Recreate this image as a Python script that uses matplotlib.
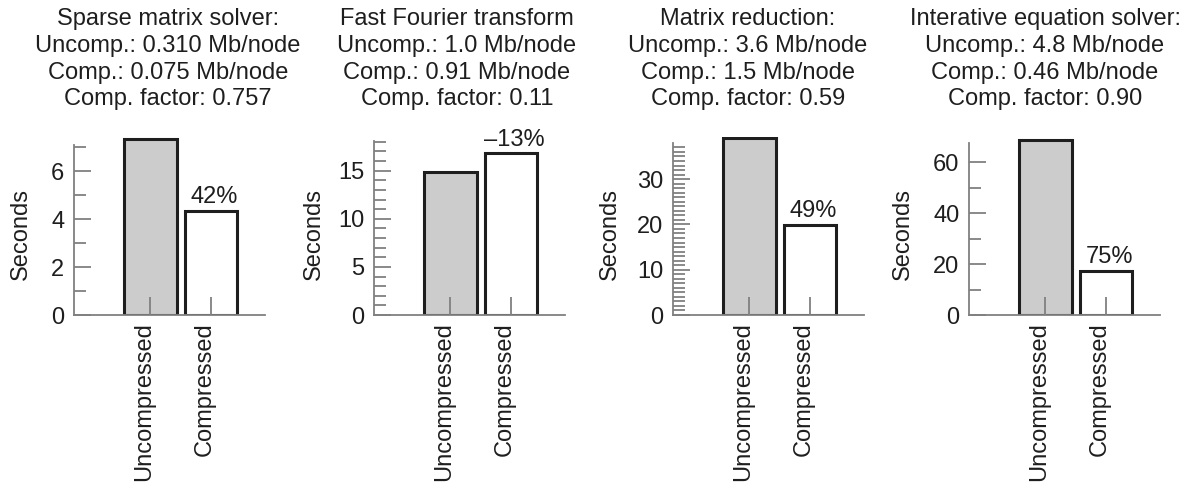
"""Uncompressed vs compressed run times for four solver kernels."""

import matplotlib

matplotlib.use("Agg")

import matplotlib.pyplot as plt  # noqa: E402
import numpy as np  # noqa: E402
from matplotlib.ticker import FixedLocator  # noqa: E402
from matplotlib.transforms import ScaledTranslation  # noqa: E402

plt.rcParams["font.family"] = ["Liberation Sans", "DejaVu Sans"]

# ---- data ------------------------------------------------------------------
CATEGORIES = ["Uncompressed", "Compressed"]
TITLES = [
    "Sparse matrix solver:\nUncomp.: 0.310 Mb/node\nComp.: 0.075 Mb/node\nComp. factor: 0.757",
    "Fast Fourier transform\nUncomp.: 1.0 Mb/node\nComp.: 0.91 Mb/node\nComp. factor: 0.11",
    "Matrix reduction:\nUncomp.: 3.6 Mb/node\nComp.: 1.5 Mb/node\nComp. factor: 0.59",
    "Interative equation solver:\nUncomp.: 4.8 Mb/node\nComp.: 0.46 Mb/node\nComp. factor: 0.90",
]
UNCOMPRESSED = [7.33, 14.9, 39.0, 68.9]
COMPRESSED = [4.33, 16.8, 19.9, 17.4]
SAVINGS = ["42%", "\u201313%", "49%", "75%"]
MAJOR_STEP = [2, 5, 10, 20]
MINOR_STEP = [1, 1, 1, 10]

# ---- layout (pixels at dpi 100) --------------------------------------------
FIG_W, FIG_H = 1193, 487
AX_LEFT = [74, 374, 673, 969]
AX_W = 191
AX_TOP, AX_BOTTOM = 137, 315
YLIM_TOP = [7.42, 18.5, 39.3, 70.0]
SPINE_TOP = [7.1, 18.05, 37.9, 67.5]
YLABEL_OFF = [53, 60, 63, 66]
TITLE_CX = [168, 457, 748, 1045]

C_TEXT = "#1e1e1e"
C_AXIS = "#808080"
FS = 17

fig = plt.figure(figsize=(FIG_W / 100, FIG_H / 100), dpi=100)
shift = ScaledTranslation(-6 / 100, 0, fig.dpi_scale_trans)

for i in range(4):
    ax = fig.add_axes([
        AX_LEFT[i] / FIG_W,
        1 - AX_BOTTOM / FIG_H,
        AX_W / FIG_W,
        (AX_BOTTOM - AX_TOP) / FIG_H,
    ])
    x = np.arange(len(CATEGORIES))
    ax.bar(x, [UNCOMPRESSED[i], COMPRESSED[i]], width=0.87,
           color=["#cccccc", "white"], edgecolor=C_TEXT, linewidth=2.2, zorder=1)
    ax.set_xlim(-1.26, 1.89)
    ax.set_ylim(0, YLIM_TOP[i])

    for side in ("top", "right"):
        ax.spines[side].set_visible(False)
    for side in ("left", "bottom"):
        ax.spines[side].set_color(C_AXIS)
        ax.spines[side].set_linewidth(1.3)
    ax.spines["left"].set_bounds(0, SPINE_TOP[i])

    ax.yaxis.set_major_locator(FixedLocator(np.arange(0, SPINE_TOP[i] + 1e-6, MAJOR_STEP[i])))
    minor = [v for v in np.arange(0, SPINE_TOP[i] + 1e-6, MINOR_STEP[i]) if v % MAJOR_STEP[i]]
    ax.yaxis.set_minor_locator(FixedLocator(minor))
    ax.tick_params(axis="y", which="major", direction="in", length=12, width=1.3,
                   color=C_AXIS, pad=7, labelsize=FS, labelcolor=C_TEXT)
    ax.tick_params(axis="y", which="minor", direction="in", length=8.5, width=1.3,
                   color=C_AXIS)

    ax.set_xticks(x)
    ax.set_xticklabels(CATEGORIES, rotation=90, fontsize=FS, color=C_TEXT)
    ax.tick_params(axis="x", direction="in", length=13, width=1.3, color=C_AXIS, pad=5)
    for lab in ax.get_xticklabels():
        lab.set_transform(lab.get_transform() + shift)

    ax.set_ylabel("Seconds", fontsize=FS, color=C_TEXT, va="center")
    ax.yaxis.set_label_coords(-YLABEL_OFF[i] / AX_W, 0.455)

    ax.annotate(SAVINGS[i], (1, COMPRESSED[i]), xytext=(2.5, 2), textcoords="offset points",
                ha="center", va="bottom", fontsize=FS, color=C_TEXT)

    fig.text(TITLE_CX[i] / FIG_W, 1 - 8 / FIG_H, TITLES[i], ha="center", va="top",
             fontsize=FS, color=C_TEXT, linespacing=1.28)

fig.savefig("out.png", dpi=100, facecolor="white")
